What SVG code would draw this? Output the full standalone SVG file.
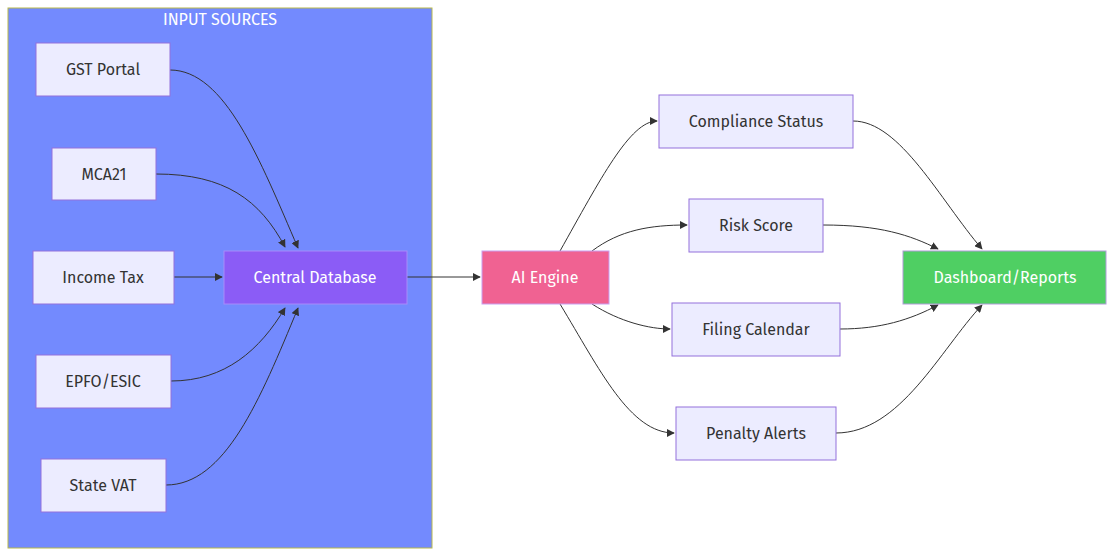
<svg xmlns="http://www.w3.org/2000/svg" width="1115" height="556" viewBox="0 0 1115 556">
<style>
text{font-family:"Fira Sans",Lato,"Open Sans",sans-serif;font-size:16px;text-anchor:middle;dominant-baseline:central;fill:#333}
.n{fill:#ececff;stroke:#9370db;stroke-width:1}
.e{fill:none;stroke:#333;stroke-width:1;marker-end:url(#a)}
.w{fill:#fff}
</style>
<defs><marker id="a" viewBox="0 0 10 10" refX="9" refY="5" markerWidth="8" markerHeight="8" orient="auto"><path d="M0,0L10,5L0,10z" fill="#333"/></marker></defs>
<g id="cluster"><rect x="8" y="8" width="424" height="540" fill="#738afe" stroke="#b8b84a"/><text x="220" y="19" class="w">INPUT SOURCES</text></g>
<g id="edges">
<path class="e" d="M170,70 C225,70 260,160 298,248"/>
<path class="e" d="M156,174 C225,174 260,200 285,247"/>
<path class="e" d="M174,277 L222,277"/>
<path class="e" d="M171,381 C225,381 260,350 285,308"/>
<path class="e" d="M166,485 C225,485 260,400 298,308"/>
<path class="e" d="M407,277 L480,277"/>
<path class="e" d="M560,251 C600,180 630,121 657,121"/>
<path class="e" d="M592,251 C620,230 650,225 687,225"/>
<path class="e" d="M592,304 C620,322 650,329 670,329"/>
<path class="e" d="M560,304 C600,370 630,433 674,433"/>
<path class="e" d="M853,121 C900,121 940,200 982,249"/>
<path class="e" d="M823,225 C880,225 910,235 938,249"/>
<path class="e" d="M840,329 C880,329 910,320 938,305"/>
<path class="e" d="M836,433 C900,433 940,350 982,305"/>
</g>
<g id="gst"><rect class="n" x="36" y="43" width="134" height="53"/><text x="103" y="69">GST Portal</text></g>
<g id="mca"><rect class="n" x="52" y="148" width="104" height="52"/><text x="104" y="174">MCA21</text></g>
<g id="income"><rect class="n" x="33" y="251" width="141" height="53"/><text x="103" y="277">Income Tax</text></g>
<g id="epfo"><rect class="n" x="36" y="355" width="135" height="53"/><text x="103" y="381">EPFO/ESIC</text></g>
<g id="vat"><rect class="n" x="41" y="459" width="125" height="53"/><text x="103" y="485">State VAT</text></g>
<g id="db"><rect x="224" y="251" width="183" height="53" fill="#8b5cf6" stroke="#a78bfa"/><text x="315" y="277" class="w">Central Database</text></g>
<g id="ai"><rect x="482" y="251" width="127" height="53" fill="#f06292" stroke="#c9a0f0"/><text x="545" y="277" class="w">AI Engine</text></g>
<g id="comp"><rect class="n" x="659" y="95" width="194" height="53"/><text x="756" y="121">Compliance Status</text></g>
<g id="risk"><rect class="n" x="689" y="199" width="134" height="53"/><text x="756" y="225">Risk Score</text></g>
<g id="filing"><rect class="n" x="672" y="303" width="168" height="53"/><text x="756" y="329">Filing Calendar</text></g>
<g id="penalty"><rect class="n" x="676" y="407" width="160" height="53"/><text x="756" y="433">Penalty Alerts</text></g>
<g id="dash"><rect x="903" y="251" width="203" height="53" fill="#4fcf63" stroke="#b19cd9"/><text x="1005" y="277" class="w">Dashboard/Reports</text></g>
</svg>
